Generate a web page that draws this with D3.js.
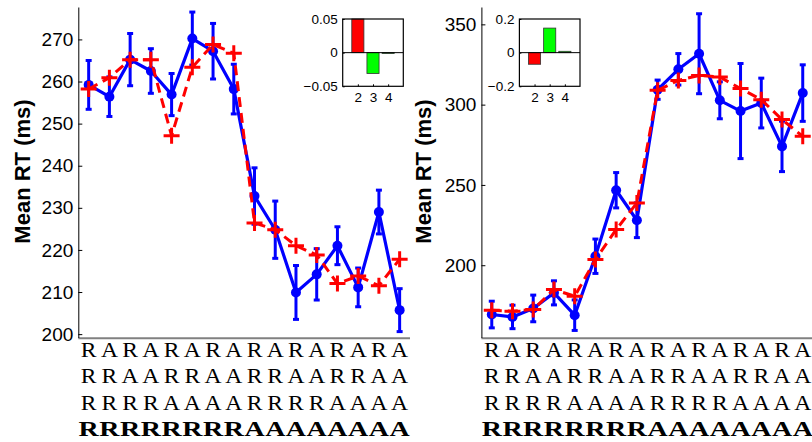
<!DOCTYPE html>
<html>
<head>
<meta charset="utf-8">
<script src="https://cdn.jsdelivr.net/npm/d3@7"></script>
<style>
  body { margin: 0; background: #fff; }
  svg { display: block; }
  .tick text { font-family: "Liberation Sans", Arial, sans-serif; fill: #000; }
</style>
</head>
<body>
<div id="chartHolder"></div>
<script>
// condition sequences under each panel (last row is the current trial)
const rowLabels = [
  "RARARARARARARARA",
  "RRAARRAARRAARRAA",
  "RRRRAAAARRRRAAAA",
  "RRRRRRRRAAAAAAAA"
];

// left panel
const leftMean  = [259.2, 256.4, 265.2, 262.5, 256.9, 270.2, 267.2, 258.2, 232.8, 224.8, 209.9, 214.2, 221.0, 211.1, 229.0, 205.7];
const leftErr   = [5.8, 4.7, 6.2, 5.3, 5.0, 6.3, 6.6, 5.9, 6.7, 6.8, 6.4, 6.1, 4.5, 4.6, 5.2, 5.1];
const leftModel = [258.2, 260.9, 265.2, 265.2, 247.1, 263.4, 268.8, 266.7, 226.4, 224.8, 221.0, 218.8, 212.0, 213.8, 211.5, 217.8];
const leftTicks = [200, 210, 220, 230, 240, 250, 260, 270];

// right panel
const rightMean  = [169.3, 167.8, 173.1, 182.8, 168.9, 205.6, 246.7, 228.0, 309.3, 322.0, 331.7, 302.7, 296.0, 301.0, 274.0, 307.2];
const rightErr   = [8.3, 7.3, 8.3, 7.5, 9.5, 10.7, 11.0, 10.8, 6.0, 9.8, 24.9, 11.5, 29.6, 15.5, 15.7, 17.6];
const rightModel = [172.0, 171.4, 172.4, 184.9, 180.7, 203.5, 222.2, 238.8, 308.9, 315.1, 318.2, 317.2, 310.0, 303.1, 290.7, 280.3];
const rightTicks = [200, 250, 300, 350];

// inset bar charts
const insetCats = [2, 3, 4];
const leftInset  = [0.05, -0.031, -0.001];
const leftInsetTicks = [-0.05, 0, 0.05];
const rightInset = [-0.069, 0.146, 0.008];
const rightInsetTicks = [-0.2, 0, 0.2];

const svg = d3.select("#chartHolder")
  .append("svg")
  .attr("width", 812)
  .attr("height", 442);

svg.append("rect").attr("width", 812).attr("height", 442).attr("fill", "#fff");

function drawPanel(opt) {
  const g = svg.append("g");

  const x = d3.scaleLinear().domain([0.5, 16.5]).range([opt.left, opt.left + 331.7]);
  const y = d3.scaleLinear().domain(opt.yDomain).range([337.5, 7]);

  // bottom axis line (grey)
  g.append("line")
    .attr("x1", x(0.5)).attr("x2", x(16.5))
    .attr("y1", 338.3).attr("y2", 338.3)
    .attr("stroke", "#808080").attr("stroke-width", 2);

  // y axis
  const yAxis = d3.axisLeft(y)
    .tickValues(opt.ticks)
    .tickSizeInner(-4)
    .tickSizeOuter(0)
    .tickPadding(5)
    .tickFormat(d3.format("d"));
  const ya = g.append("g")
    .attr("transform", `translate(${x(0.5)},0)`)
    .call(yAxis);
  ya.select(".domain").attr("stroke", "#000").attr("stroke-width", 1);
  ya.selectAll(".tick line").attr("stroke", "#000");
  ya.selectAll(".tick text").style("font-size", "19px");

  // y title
  g.append("text")
    .attr("transform", `translate(${opt.titleX},171.5) rotate(-90)`)
    .attr("text-anchor", "middle")
    .style("font-family", "Liberation Sans, Arial, sans-serif")
    .style("font-weight", "bold")
    .style("font-size", "22px")
    .text("Mean RT (ms)");

  // blue data: line, error bars, dots
  const line = d3.line().x((d, i) => x(i + 1)).y(d => y(d));
  g.append("path")
    .datum(opt.mean)
    .attr("d", line)
    .attr("fill", "none")
    .attr("stroke", "#0000ff")
    .attr("stroke-width", 3.2)
    .attr("stroke-linejoin", "round");

  const eb = g.selectAll(".err")
    .data(opt.mean)
    .enter()
    .append("g")
    .attr("class", "err");
  eb.append("line")
    .attr("x1", (d, i) => x(i + 1)).attr("x2", (d, i) => x(i + 1))
    .attr("y1", (d, i) => y(d - opt.err[i])).attr("y2", (d, i) => y(d + opt.err[i]));
  eb.append("line")
    .attr("x1", (d, i) => x(i + 1) - 3).attr("x2", (d, i) => x(i + 1) + 3)
    .attr("y1", (d, i) => y(d + opt.err[i])).attr("y2", (d, i) => y(d + opt.err[i]));
  eb.append("line")
    .attr("x1", (d, i) => x(i + 1) - 3).attr("x2", (d, i) => x(i + 1) + 3)
    .attr("y1", (d, i) => y(d - opt.err[i])).attr("y2", (d, i) => y(d - opt.err[i]));
  eb.selectAll("line").attr("stroke", "#0000ff").attr("stroke-width", 3);

  g.selectAll(".dot")
    .data(opt.mean)
    .enter()
    .append("circle")
    .attr("class", "dot")
    .attr("cx", (d, i) => x(i + 1))
    .attr("cy", d => y(d))
    .attr("r", 5)
    .attr("fill", "#0000ff");

  // red model: dashed line + plus markers
  g.append("path")
    .datum(opt.model)
    .attr("d", line)
    .attr("fill", "none")
    .attr("stroke", "#ff0000")
    .attr("stroke-width", 3)
    .attr("stroke-dasharray", "10,6");

  g.selectAll(".plus")
    .data(opt.model)
    .enter()
    .append("path")
    .attr("class", "plus")
    .attr("d", (d, i) => {
      const cx = x(i + 1), cy = y(d);
      return `M${cx - 8},${cy}H${cx + 8}M${cx},${cy - 8}V${cy + 8}`;
    })
    .attr("stroke", "#ff0000")
    .attr("stroke-width", 3)
    .attr("fill", "none");

  // condition letters
  rowLabels.forEach((row, r) => {
    const bold = r === rowLabels.length - 1;
    row.split("").forEach((ch, i) => {
      g.append("text")
        .attr("transform", `translate(${x(i + 1)},${357 + r * 26.3}) scale(${bold ? 1.4 : 1.18},1)`)
        .attr("text-anchor", "middle")
        .style("font-family", "Liberation Serif, Times New Roman, serif")
        .style("font-weight", bold ? "bold" : "normal")
        .style("font-size", "20px")
        .text(ch);
    });
  });

  // inset bar chart
  const ix = d3.scaleLinear().domain([1, 5]).range([opt.insetLeft, opt.insetLeft + 60.6]);
  const iy = d3.scaleLinear().domain(opt.insetDomain).range([86.3, 19]);
  const ig = g.append("g");
  ig.append("rect")
    .attr("x", ix(1)).attr("y", iy.range()[1])
    .attr("width", ix(5) - ix(1)).attr("height", iy.range()[0] - iy.range()[1])
    .attr("fill", "#fff");
  const bw = (ix(2) - ix(1)) * 0.8;
  ig.selectAll(".bar")
    .data(opt.insetVals)
    .enter()
    .append("rect")
    .attr("class", "bar")
    .attr("x", (d, i) => ix(insetCats[i]) - bw / 2)
    .attr("y", d => iy(Math.max(0, d)))
    .attr("width", bw)
    .attr("height", d => Math.max(0.8, Math.abs(iy(d) - iy(0))))
    .attr("fill", (d, i) => i === 0 ? "#ff0000" : "#00ff00")
    .attr("stroke", "#333")
    .attr("stroke-width", 0.8);
  ig.append("line")
    .attr("x1", ix(1)).attr("x2", ix(5))
    .attr("y1", iy(0)).attr("y2", iy(0))
    .attr("stroke", "#000").attr("stroke-width", 1);
  ig.append("rect")
    .attr("x", ix(1)).attr("y", iy.range()[1])
    .attr("width", ix(5) - ix(1)).attr("height", iy.range()[0] - iy.range()[1])
    .attr("fill", "none").attr("stroke", "#000").attr("stroke-width", 1.2);

  const iyAxis = d3.axisLeft(iy)
    .tickValues(opt.insetTicks)
    .tickSizeInner(-2)
    .tickSizeOuter(0)
    .tickPadding(5)
    .tickFormat(d => d === 0 ? "0" : d3.format(opt.insetFmt)(d));
  const iya = ig.append("g")
    .attr("transform", `translate(${ix(1)},0)`)
    .call(iyAxis);
  iya.select(".domain").remove();
  iya.selectAll(".tick text").style("font-size", "13.5px");

  const ixAxis = d3.axisBottom(ix)
    .tickValues(insetCats)
    .tickSizeInner(-2)
    .tickSizeOuter(0)
    .tickPadding(6)
    .tickFormat(d3.format("d"));
  const ixa = ig.append("g")
    .attr("transform", `translate(0,${iy.range()[0]})`)
    .call(ixAxis);
  ixa.select(".domain").remove();
  ixa.selectAll(".tick text").style("font-size", "13.5px");
}

drawPanel({
  left: 78.3,
  yDomain: [199.2, 277.7],
  ticks: leftTicks,
  titleX: 30,
  mean: leftMean,
  err: leftErr,
  model: leftModel,
  insetLeft: 342.7,
  insetDomain: [-0.05, 0.05],
  insetTicks: leftInsetTicks,
  insetVals: leftInset,
  insetFmt: ".2f"
});

drawPanel({
  left: 481.4,
  yDomain: [155.0, 360.8],
  ticks: rightTicks,
  titleX: 431,
  mean: rightMean,
  err: rightErr,
  model: rightModel,
  insetLeft: 519.4,
  insetDomain: [-0.2, 0.2],
  insetTicks: rightInsetTicks,
  insetVals: rightInset,
  insetFmt: ".1f"
});
</script>
</body>
</html>
